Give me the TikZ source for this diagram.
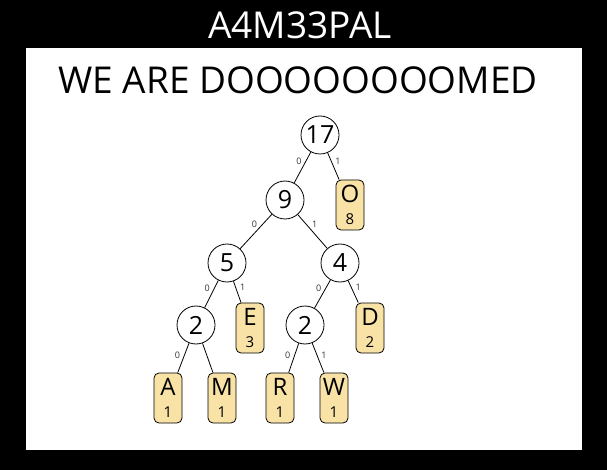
\documentclass[tikz,border=0pt]{standalone}
\usepackage{fontspec}
\setmainfont{Open Sans}
\usetikzlibrary{positioning}
\definecolor{leafyellow}{HTML}{F8E2A6}
\begin{document}
\begin{tikzpicture}[x=1pt,y=-1pt,thick]
\tikzstyle{vertex}=[draw,fill=white,circle,minimum size=38pt,inner sep=0pt,font=\fontsize{25}{25}\selectfont]
\tikzstyle{leaf}=[draw,fill=leafyellow,rounded corners=5pt,minimum width=28pt,minimum height=50pt,inner sep=0pt,align=center,font=\fontsize{24}{22}\selectfont]
\tikzstyle{bit}=[font=\fontsize{9}{9}\selectfont,text=black!80,inner sep=1pt]
\newcommand{\cnt}[1]{{\fontsize{15}{15}\selectfont #1}}
\fill[black] (0,0) rectangle (607,470);
\fill[white] (26,48) rectangle (582,450);
\node[white,font=\fontsize{37}{37}\selectfont] (title) at (300,25) {A4M33PAL};
\node[font=\fontsize{37}{37}\selectfont] (head) at (298,80) {WE ARE DOOOOOOOOMED};
% tree
\node[vertex] (r) at (320,135) {17};
\node[vertex] (n9) at (285,200) {9};
\node[leaf] (o) at (350,205) {O\\\cnt{8}};
\node[vertex] (n5) at (227,263) {5};
\node[vertex] (n4) at (340,263) {4};
\node[vertex] (l2) at (196,325) {2};
\node[leaf] (e) at (250,328) {E\\\cnt{3}};
\node[vertex] (r2) at (305,325) {2};
\node[leaf] (d) at (370,328) {D\\\cnt{2}};
\node[leaf] (a) at (168,398) {A\\\cnt{1}};
\node[leaf] (m) at (222,398) {M\\\cnt{1}};
\node[leaf] (rr) at (280,398) {R\\\cnt{1}};
\node[leaf] (w) at (334,398) {W\\\cnt{1}};
% edges
\draw (r) -- node[bit,pos=0.3,left=3pt]{0} (n9);
\draw (r) -- node[bit,pos=0.3,right=3pt]{1} (o);
\draw (n9) -- node[bit,pos=0.3,left=4pt]{0} (n5);
\draw (n9) -- node[bit,pos=0.3,right=4pt]{1} (n4);
\draw (n5) -- node[bit,pos=0.3,left=3pt]{0} (l2);
\draw (n5) -- node[bit,pos=0.3,right=3pt]{1} (e);
\draw (n4) -- node[bit,pos=0.3,left=3pt]{0} (r2);
\draw (n4) -- node[bit,pos=0.3,right=3pt]{1} (d);
\draw (l2) -- node[bit,pos=0.4,left=3pt]{0} (a);
\draw (l2) -- (m);
\draw (r2) -- node[bit,pos=0.4,left=3pt]{0} (rr);
\draw (r2) -- node[bit,pos=0.4,right=3pt]{1} (w);
\end{tikzpicture}
\end{document}
